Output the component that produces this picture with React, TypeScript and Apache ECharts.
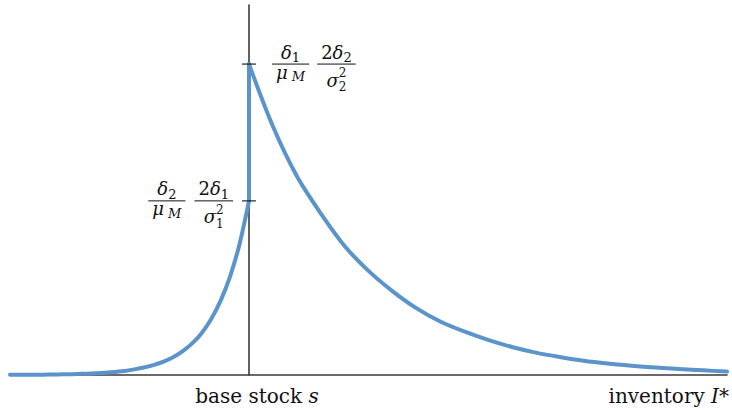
import React, { useEffect, useRef } from "react";
import * as echarts from "echarts";

// Left branch (below base stock s), right branch (above s), the jump at s
const leftX = [-2.5, -2.4, -2.3, -2.2, -2.1, -2.0, -1.9, -1.8, -1.7, -1.6, -1.5, -1.4, -1.3, -1.2, -1.1, -1.0, -0.9, -0.8, -0.7, -0.6, -0.5, -0.4, -0.3, -0.2, -0.1, 0];
const leftY = [0.0005, 0.0006, 0.0008, 0.001, 0.0014, 0.0018, 0.0024, 0.0032, 0.0043, 0.0057, 0.0076, 0.01, 0.013, 0.018, 0.024, 0.032, 0.042, 0.056, 0.075, 0.1, 0.133, 0.178, 0.237, 0.315, 0.42, 0.56];
const jumpX = [0, 0];
const jumpY = [0.56, 1.0];
const rightX = [0, 0.25, 0.5, 0.75, 1.0, 1.25, 1.5, 1.75, 2.0, 2.25, 2.5, 2.75, 3.0, 3.25, 3.5, 3.75, 4.0, 4.25, 4.5, 4.75, 5.0];
const rightY = [1.0, 0.8, 0.64, 0.52, 0.415, 0.335, 0.27, 0.215, 0.172, 0.14, 0.113, 0.09, 0.072, 0.058, 0.046, 0.037, 0.03, 0.024, 0.019, 0.015, 0.011];
const tickY = [0.56, 1.0];
const xLabelValues = [0];
const xLabels = ["base stock {i|s}"];
const xName = "inventory {i|I}*";

const FONT = "DejaVu Serif";
const INK = "#111";
const BLUE = "#5b94ca";
const AXIS = "#3a3a3a";

type Piece = { t: string; it?: boolean; sz: number; dy: number; same?: boolean };

let ctx: CanvasRenderingContext2D | null = null;
function measure(t: string, sz: number, it?: boolean) {
  if (!ctx) ctx = document.createElement("canvas").getContext("2d");
  if (!ctx) return t.length * sz * 0.55;
  ctx.font = `${it ? "italic " : ""}${sz}px "${FONT}"`;
  return ctx.measureText(t).width;
}

function rowWidth(ps: Piece[]) {
  let w = 0;
  let last = 0;
  ps.forEach((p) => {
    const pw = measure(p.t, p.sz, p.it);
    if (p.same) {
      w += Math.max(0, pw - last);
      last = Math.max(pw, last);
    } else {
      w += pw;
      last = pw;
    }
  });
  return w;
}

function rowEls(ps: Piece[], x0: number, baseY: number) {
  const els: any[] = [];
  let x = x0;
  let prevX = x0;
  ps.forEach((p) => {
    const px = p.same ? prevX : x;
    const pw = measure(p.t, p.sz, p.it);
    els.push({
      type: "text",
      silent: true,
      style: {
        text: p.t,
        x: px,
        y: baseY + p.dy - p.sz * 0.33,
        fontSize: p.sz,
        fontFamily: FONT,
        fontStyle: p.it ? "italic" : "normal",
        fill: INK,
        align: "left",
        verticalAlign: "middle",
      },
    });
    if (!p.same) prevX = x;
    x = Math.max(x, px + pw);
  });
  return els;
}

const PAD = 8;

function fraction(num: Piece[], den: Piece[], left: number, barY: number, denBase: number) {
  const nw = rowWidth(num);
  const dw = rowWidth(den);
  const w = Math.max(nw, dw) + PAD;
  const els: any[] = [
    {
      type: "line",
      silent: true,
      shape: { x1: left, y1: barY, x2: left + w, y2: barY },
      style: { stroke: INK, lineWidth: 1 },
    },
  ];
  els.push(...rowEls(num, left + (w - nw) / 2, barY - 6));
  els.push(...rowEls(den, left + (w - dw) / 2, barY + denBase));
  return { els, w };
}

const M = 18;
const S = 13;
const SS = 12;

export default function App() {
  const ref = useRef<HTMLDivElement>(null);
  useEffect(() => {
    if (!ref.current) return;
    const chart = echarts.init(ref.current, null, { renderer: "svg" });
    chart.setOption({
      animation: false,
      backgroundColor: "#fff",
      grid: { left: 10, right: 4, top: 5, bottom: 35, containLabel: false },
      xAxis: {
        type: "value",
        min: -2.5,
        max: 5,
        name: xName,
        nameLocation: "end",
        nameGap: 2,
        nameTextStyle: {
          fontFamily: FONT,
          fontSize: 20,
          color: INK,
          align: "right",
          verticalAlign: "top",
          padding: [11, 0, 0, 0],
          rich: { i: { fontStyle: "italic", fontFamily: FONT, fontSize: 20, color: INK } },
        },
        axisLine: { show: true, lineStyle: { color: AXIS, width: 1.6 } },
        axisTick: { show: false },
        splitLine: { show: false },
        axisLabel: {
          customValues: xLabelValues,
          formatter: (v: number) => xLabels[xLabelValues.indexOf(v)] ?? "",
          fontFamily: FONT,
          fontSize: 20,
          color: INK,
          margin: 11,
          padding: [0, 0, 0, 16],
          rich: { i: { fontStyle: "italic", fontFamily: FONT, fontSize: 20, color: INK } },
        },
      },
      yAxis: {
        type: "value",
        min: 0,
        max: 1.19,
        axisLine: { show: true, onZero: true, lineStyle: { color: AXIS, width: 1.6 } },
        axisTick: { show: false },
        axisLabel: { show: false },
        splitLine: { show: false },
      },
      series: [
        {
          type: "line",
          data: leftX.map((x, i) => [x, leftY[i]]),
          smooth: 0.3,
          symbol: "none",
          lineStyle: { color: BLUE, width: 4, cap: "round", join: "round" },
          z: 3,
        },
        {
          type: "line",
          data: jumpX.map((x, i) => [x, jumpY[i]]),
          symbol: "none",
          lineStyle: { color: BLUE, width: 4, cap: "round" },
          z: 3,
        },
        {
          type: "line",
          data: rightX.map((x, i) => [x, rightY[i]]),
          smooth: 0.3,
          symbol: "none",
          lineStyle: { color: BLUE, width: 4, cap: "round", join: "round" },
          z: 3,
        },
        {
          type: "scatter",
          data: tickY.map((y) => [0, y]),
          symbol: "rect",
          symbolSize: [14, 1.4],
          itemStyle: { color: INK },
          z: 4,
        },
      ],
    });

    const pLow = chart.convertToPixel({ gridIndex: 0 }, [0, tickY[0]]) as number[];
    const pHigh = chart.convertToPixel({ gridIndex: 0 }, [0, tickY[1]]) as number[];

    // upper label: δ1/μM  2δ2/σ2²
    const upA = fraction(
      [
        { t: "δ", it: true, sz: M, dy: 0 },
        { t: "1", sz: S, dy: 4 },
      ],
      [
        { t: "μ", it: true, sz: M, dy: 0 },
        { t: " M", it: true, sz: S, dy: 3 },
      ],
      pHigh[0] + 23,
      pHigh[1],
      14
    );
    const upB = fraction(
      [
        { t: "2", sz: M, dy: 0 },
        { t: "δ", it: true, sz: M, dy: 0 },
        { t: "2", sz: S, dy: 4 },
      ],
      [
        { t: "σ", it: true, sz: M, dy: 0 },
        { t: "2", sz: SS, dy: -9 },
        { t: "2", sz: SS, dy: 5, same: true },
      ],
      pHigh[0] + 23 + upA.w + 8,
      pHigh[1],
      22
    );

    // lower label: δ2/μM  2δ1/σ1²
    const numLB = [
      { t: "2", sz: M, dy: 0 },
      { t: "δ", it: true, sz: M, dy: 0 },
      { t: "1", sz: S, dy: 4 },
    ];
    const denLB = [
      { t: "σ", it: true, sz: M, dy: 0 },
      { t: "2", sz: SS, dy: -9 },
      { t: "1", sz: SS, dy: 5, same: true },
    ];
    const wLB = Math.max(rowWidth(numLB), rowWidth(denLB)) + PAD;
    const numLA = [
      { t: "δ", it: true, sz: M, dy: 0 },
      { t: "2", sz: S, dy: 4 },
    ];
    const denLA = [
      { t: "μ", it: true, sz: M, dy: 0 },
      { t: " M", it: true, sz: S, dy: 3 },
    ];
    const wLA = Math.max(rowWidth(numLA), rowWidth(denLA)) + PAD;
    const rightEdge = pLow[0] - 16;
    const loB = fraction(numLB, denLB, rightEdge - wLB, pLow[1], 22);
    const loA = fraction(numLA, denLA, rightEdge - wLB - 9 - wLA, pLow[1], 14);

    chart.setOption({
      graphic: [...upA.els, ...upB.els, ...loA.els, ...loB.els],
    });

    return () => chart.dispose();
  }, []);
  return (
    <div
      ref={ref}
      style={{ position: "absolute", left: 0, top: 0, width: 732, height: 410 }}
    />
  );
}
